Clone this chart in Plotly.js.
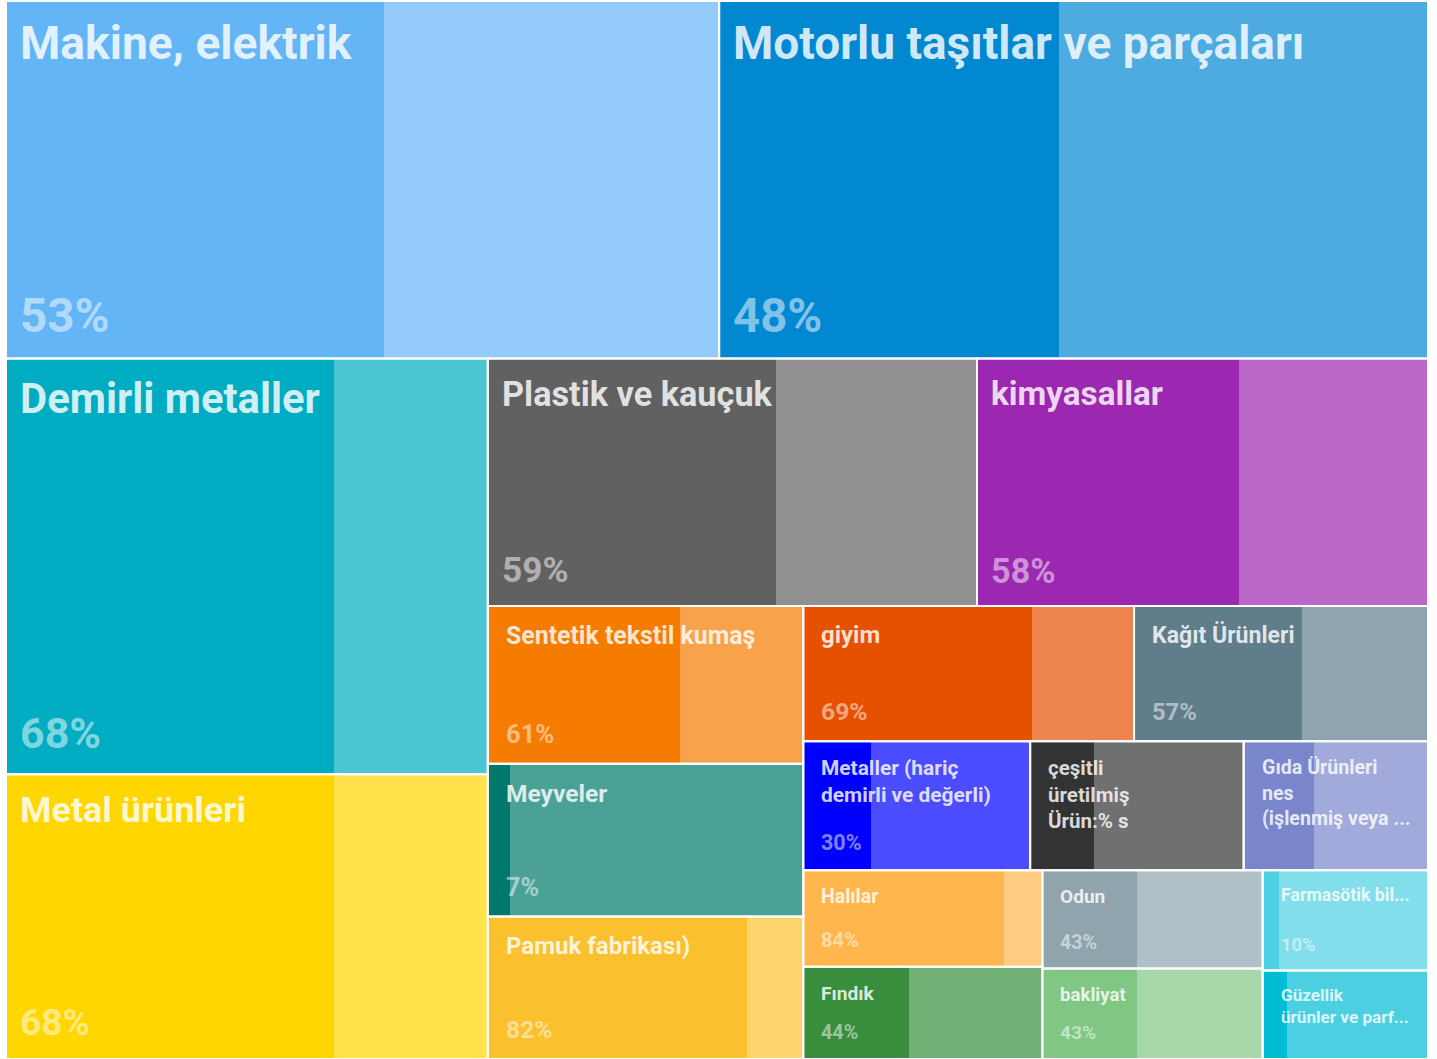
<!DOCTYPE html>
<html>
<head>
<meta charset="utf-8">
<script src="https://cdn.plot.ly/plotly-3.0.1.min.js"></script>
<style>html,body{margin:0;padding:0;background:#fff;}</style>
</head>
<body>
<div id="chart" style="width:1437px;height:1059px;"></div>
<script>
// ---- Data ----
const categories = ["Makine, elektrik","Motorlu taşıtlar ve parçaları","Demirli metaller","Metal ürünleri","Plastik ve kauçuk","kimyasallar","Sentetik tekstil kumaş","Meyveler","Pamuk fabrikası)","giyim","Kağıt Ürünleri","Metaller (hariç demirli ve değerli)","çeşitli üretilmiş Ürün:% s","Gıda Ürünleri nes (işlenmiş veya ...","Halılar","Fındık","Odun","bakliyat","Farmasötik bil...","Güzellik ürünler ve parf..."];
const displayLabels = ["Makine, elektrik","Motorlu taşıtlar ve parçaları","Demirli metaller","Metal ürünleri","Plastik ve kauçuk","kimyasallar","Sentetik tekstil kumaş","Meyveler","Pamuk fabrikası)","giyim","Kağıt Ürünleri","Metaller (hariç<br>demirli ve değerli)","çeşitli<br>üretilmiş<br>Ürün:% s","Gıda Ürünleri<br>nes<br>(işlenmiş veya ...","Halılar","Fındık","Odun","bakliyat","Farmasötik bil...","Güzellik<br>ürünler ve parf..."];
const values = [250.8, 249.3, 197.0, 135.0, 119.1, 109.8, 49.0, 47.4, 44.2, 44.0, 39.1, 28.8, 27.1, 23.4, 22.7, 21.7, 21.3, 19.6, 16.3, 14.4];
const shares = [53, 48, 68, 68, 59, 58, 61, 7, 82, 69, 57, 30, 30, 38, 84, 44, 43, 43, 10, 15];
const colors = ["#64B5F6","#0288D1","#00ACC1","#FFD600","#616161","#9C27B0","#F57C00","#00796B","#FBC02D","#E65100","#607D8B","#0000FF","#333333","#7986CB","#FFB74D","#388E3C","#90A4AE","#81C784","#4DD0E1","#00BCD4"];

// ---- Layout parameters ----
const W = 1437, H = 1059;
const M = {l: 6, r: 9, t: 1, b: 0};
const PW = W - M.l - M.r, PH = H - M.t - M.b;
const ASPECT = 1.49; // virtual layout box height/width

function squarify(vals, x0, y0, x1, y1) {
  const n = vals.length, rects = new Array(n);
  let value = vals.reduce((a, b) => a + b, 0);
  let i0 = 0, i1 = 0;
  while (i0 < n) {
    const dx = x1 - x0, dy = y1 - y0;
    let sum = vals[i1++], minV = sum, maxV = sum;
    const alpha = Math.max(dy / dx, dx / dy) / value;
    let beta = sum * sum * alpha;
    let minRatio = Math.max(maxV / beta, beta / minV);
    for (; i1 < n; ++i1) {
      const v = vals[i1];
      sum += v;
      if (v < minV) minV = v;
      if (v > maxV) maxV = v;
      beta = sum * sum * alpha;
      const r = Math.max(maxV / beta, beta / minV);
      if (r > minRatio) { sum -= v; break; }
      minRatio = r;
    }
    if (dx < dy) {
      const h = i1 >= n ? dy : dy * sum / value;
      let x = x0;
      for (let k = i0; k < i1; k++) { const w = dx * vals[k] / sum; rects[k] = [x, y0, x + w, y0 + h]; x += w; }
      y0 += h;
    } else {
      const w = i1 >= n ? dx : dx * sum / value;
      let y = y0;
      for (let k = i0; k < i1; k++) { const h = dy * vals[k] / sum; rects[k] = [x0, y, x0 + w, y + h]; y += h; }
      x0 += w;
    }
    value -= sum; i0 = i1;
  }
  return rects;
}

function rgba(hex, a) {
  const n = parseInt(hex.slice(1), 16);
  return `rgba(${(n >> 16) & 255},${(n >> 8) & 255},${n & 255},${a})`;
}

const rects = squarify(values, 0, 0, 1, ASPECT);

const dark = {x: [], w: [], base: [], y: [], c: []};
const light = {x: [], w: [], base: [], y: [], c: []};
const outline = {x: [], w: [], base: [], y: []};
const annotations = [];

rects.forEach((r, i) => {
  const [x0, y0, x1, y1] = r;
  const tw = x1 - x0, th = y1 - y0;
  const xd = x0 + tw * shares[i] / 100;
  dark.x.push((x0 + xd) / 2); dark.w.push(xd - x0); dark.base.push(y0); dark.y.push(th); dark.c.push(colors[i]);
  light.x.push((xd + x1) / 2); light.w.push(x1 - xd); light.base.push(y0); light.y.push(th); light.c.push(rgba(colors[i], 0.7));
  outline.x.push((x0 + x1) / 2); outline.w.push(tw); outline.base.push(y0); outline.y.push(th);

  const wPx = tw * PW, hPx = th * PH / ASPECT;
  const fs = Math.min(50, 8 + 0.0755 * Math.sqrt(wPx * hPx));
  const padX = fs > 30 ? 12 : 16;
  const padY = 13;
  const nLines = displayLabels[i].split("<br>").length;
  annotations.push({
    x: x0, y: y0, xref: "x", yref: "y", xanchor: "left", yanchor: "top",
    xshift: padX, yshift: -padY, showarrow: false, align: "left",
    text: displayLabels[i],
    font: {family: "Roboto, sans-serif", size: fs, weight: 700, color: "rgba(255,255,255,0.82)"}
  });
  const need = (nLines + 1) * 1.3 * fs + 2 * padY + 6;
  if (nLines < 3 && need <= hPx) {
    annotations.push({
      x: x0, y: y1, xref: "x", yref: "y", xanchor: "left", yanchor: "bottom",
      xshift: padX, yshift: padY, showarrow: false, align: "left",
      text: shares[i] + "%",
      font: {family: "Roboto, sans-serif", size: Math.min(50, fs * 1.03), weight: 700, color: "rgba(255,255,255,0.5)"}
    });
  }
});

const barBase = {type: "bar", hoverinfo: "skip", showlegend: false};
const traces = [
  Object.assign({}, barBase, {name: "pay", x: dark.x, width: dark.w, base: dark.base, y: dark.y, customdata: categories, marker: {color: dark.c, line: {width: 0}}}),
  Object.assign({}, barBase, {name: "kalan", x: light.x, width: light.w, base: light.base, y: light.y, customdata: categories, marker: {color: light.c, line: {width: 0}}}),
  Object.assign({}, barBase, {name: "kutu", x: outline.x, width: outline.w, base: outline.base, y: outline.y, marker: {color: "rgba(0,0,0,0)", line: {width: 2, color: "#ffffff"}}})
];

const layout = {
  width: W, height: H,
  margin: M,
  paper_bgcolor: "#ffffff", plot_bgcolor: "#ffffff",
  barmode: "overlay", bargap: 0,
  showlegend: false,
  xaxis: {range: [0, 1], visible: false, fixedrange: true},
  yaxis: {range: [ASPECT, 0], visible: false, fixedrange: true},
  annotations: annotations
};

Plotly.newPlot("chart", traces, layout, {displayModeBar: false, staticPlot: true});
</script>
</body>
</html>
